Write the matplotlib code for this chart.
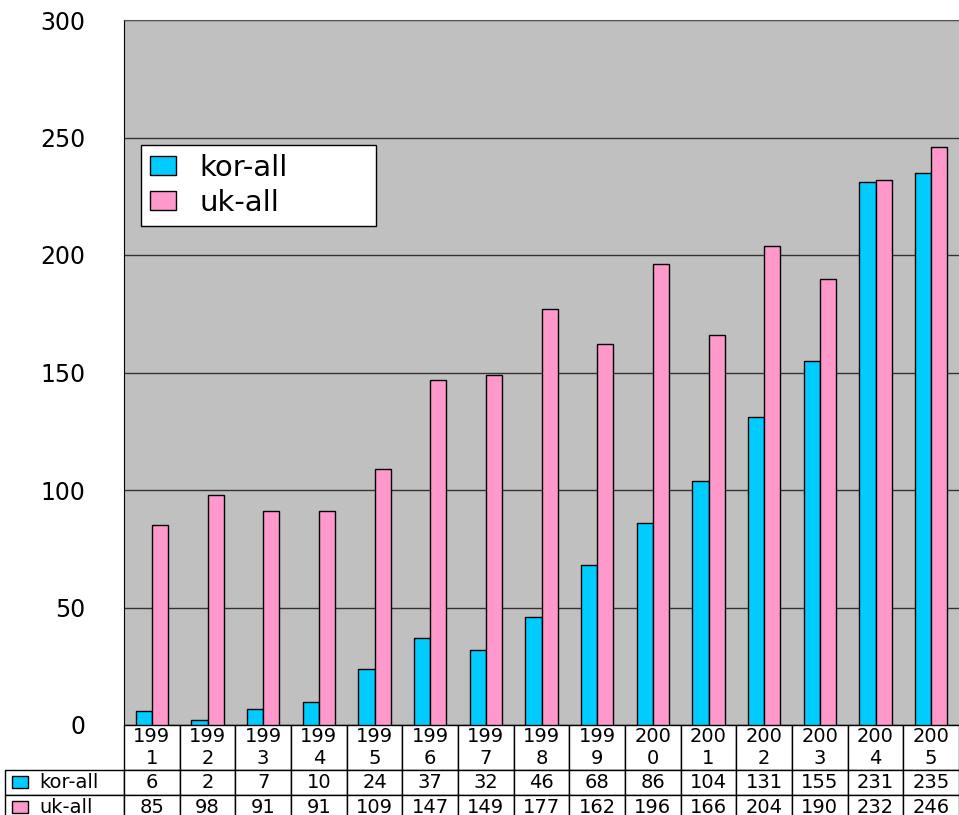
import matplotlib.pyplot as plt
import numpy as np
from matplotlib.table import Table
from matplotlib.patches import Rectangle

years = [1991, 1992, 1993, 1994, 1995, 1996, 1997, 1998,
         1999, 2000, 2001, 2002, 2003, 2004, 2005]
kor_all = [6, 2, 7, 10, 24, 37, 32, 46, 68, 86, 104, 131, 155, 231, 235]
uk_all = [85, 98, 91, 91, 109, 147, 149, 177, 162, 196, 166, 204, 190, 232, 246]
series_names = ["kor-all", "uk-all"]
colors = ["#00CCFF", "#FF99CC"]

plt.rcParams["font.family"] = ["DejaVu Sans"]

fig = plt.figure(figsize=(9.59, 8.15), dpi=100)
ax = fig.add_axes([124 / 959, 1 - 725 / 815, 835 / 959, 705 / 815])
ax.set_facecolor("#C0C0C0")

x = np.arange(len(years))
w = 0.29
ax.bar(x - w / 2, kor_all, w, color=colors[0], edgecolor="black", linewidth=1,
       label=series_names[0])
ax.bar(x + w / 2, uk_all, w, color=colors[1], edgecolor="black", linewidth=1,
       label=series_names[1])

ax.set_xlim(-0.5, len(years) - 0.5)
ax.set_ylim(0, 300)
ax.set_yticks(range(0, 301, 50))
ax.set_xticks([])
ax.tick_params(axis="y", length=0, pad=28, labelsize=17)
ax.yaxis.grid(True, color="#333333", linewidth=1)
ax.set_axisbelow(True)
ax.spines["right"].set_visible(False)
ax.spines["bottom"].set_visible(False)
ax.spines["top"].set_color("#555555")
ax.spines["left"].set_color("black")

leg = ax.legend(loc="upper left", bbox_to_anchor=(0.0204, 0.716, 0.2814, 0.1067),
                mode="expand", borderaxespad=0, fontsize=21, fancybox=False,
                edgecolor="black", framealpha=1, handlelength=0.9,
                handleheight=0.6, handletextpad=0.8, labelspacing=0.25,
                borderpad=0.3)
leg.get_frame().set_linewidth(1)

# data table under the chart
tab = Table(ax, bbox=[(5 - 124) / 835, -95 / 705, 954 / 835, 95 / 705])
label_w, col_w = 119, 835 / len(years)
row_h = [45, 25, 25]
rows = [[f"{y // 10}\n{y % 10}" for y in years],
        [str(v) for v in kor_all],
        [str(v) for v in uk_all]]
labels = ["", series_names[0], series_names[1]]
for r in range(3):
    c0 = tab.add_cell(r, 0, width=label_w, height=row_h[r], text=labels[r],
                      loc="left", facecolor="white", edgecolor="black")
    c0.PAD = 0.29
    if r == 0:
        c0.visible_edges = ""
    for c, txt in enumerate(rows[r]):
        tab.add_cell(r, c + 1, width=col_w, height=row_h[r], text=txt,
                     loc="center", facecolor="white", edgecolor="black")
tab.auto_set_font_size(False)
tab.set_fontsize(14)
ax.add_table(tab)

# colour keys in the table row labels
for i, yc in enumerate([782, 807]):
    ax.add_patch(Rectangle(((12 - 124) / 835, (725 - yc) / 705 - 6 / 705),
                           16 / 835, 12 / 705, transform=ax.transAxes,
                           facecolor=colors[i], edgecolor="black", lw=1,
                           clip_on=False, zorder=5))

fig.savefig("out.png", dpi=100)
